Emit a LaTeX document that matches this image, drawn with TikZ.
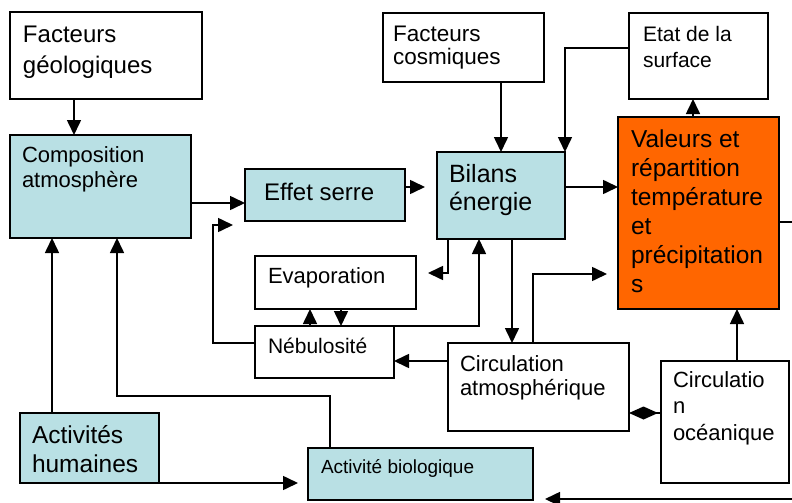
\documentclass[tikz,border=0pt]{standalone}
\usepackage{fontspec}
\setmainfont{Liberation Sans}
\usetikzlibrary{arrows.meta,calc}
\definecolor{lblue}{RGB}{185,224,228}
\definecolor{vorange}{RGB}{255,102,0}
\begin{document}
\begin{tikzpicture}[x=1pt,y=-1pt,
  box/.style={draw=black, line width=1.6pt, inner sep=0pt, outer sep=0pt, anchor=north west},
  bluebox/.style={box, fill=lblue},
  orbox/.style={box, fill=vorange},
  txt/.style={anchor=base west, inner sep=0pt, outer sep=0pt, align=left},
  arr/.style={line width=1.6pt, -{Triangle[length=15pt,width=14pt]}},
  dia/.style={line width=1.6pt, -{Diamond[length=29pt,width=13pt]}}]
\useasboundingbox (0,0) rectangle (792,503);

% boxes
\node[box, minimum width=192pt, minimum height=87pt] (geo) at (10,12) {};
\node[bluebox, minimum width=181pt, minimum height=103pt] (comp) at (10,135) {};
\node[bluebox, minimum width=160pt, minimum height=52pt] (effet) at (245,169) {};
\node[box, minimum width=161pt, minimum height=69pt] (cosm) at (383,13) {};
\node[box, minimum width=139pt, minimum height=86pt] (etat) at (629,13) {};
\node[bluebox, minimum width=128pt, minimum height=87pt] (bilans) at (437,152) {};
\node[orbox, minimum width=161pt, minimum height=192pt] (valeurs) at (618,117) {};
\node[box, minimum width=161pt, minimum height=53pt] (evap) at (255,256) {};
\node[box, minimum width=139pt, minimum height=52pt] (neb) at (255,326) {};
\node[box, minimum width=181pt, minimum height=88pt] (circatm) at (448,343) {};
\node[box, minimum width=128pt, minimum height=122pt] (circoc) at (661,361) {};
\node[bluebox, minimum width=139pt, minimum height=70pt] (acthum) at (20,413) {};
\node[bluebox, minimum width=225pt, minimum height=52pt] (actbio) at (308,448) {};

% texts (anchor = baseline of the last line)
\node[txt, font=\fontsize{24}{31}\selectfont] (geot) at ($(geo.north west)+(13,62)$) {Facteurs\\géologiques};
\node[txt, font=\fontsize{22}{25}\selectfont] (compt) at ($(comp.north west)+(12,52)$) {Composition\\atmosphère};
\node[txt, font=\fontsize{24}{28}\selectfont] (effett) at ($(effet.north west)+(19,31)$) {Effet serre};
\node[txt, font=\fontsize{22.5}{23}\selectfont] (cosmt) at ($(cosm.north west)+(10,52)$) {Facteurs\\cosmiques};
\node[txt, font=\fontsize{21}{26}\selectfont] (etatt) at ($(etat.north west)+(14,54)$) {Etat de la\\surface};
\node[txt, font=\fontsize{25}{28}\selectfont] (bilanst) at ($(bilans.north west)+(12,58)$) {Bilans\\énergie};
\node[txt, font=\fontsize{24.5}{29}\selectfont] (valeurst) at ($(valeurs.north west)+(13,175)$) {Valeurs et\\répartition\\température\\et\\précipitation\\s};
\node[txt, font=\fontsize{22}{25}\selectfont] (evapt) at ($(evap.north west)+(13,27)$) {Evaporation};
\node[txt, font=\fontsize{21}{25}\selectfont] (nebt) at ($(neb.north west)+(13,27)$) {Nébulosité};
\node[txt, font=\fontsize{22}{24}\selectfont] (circatmt) at ($(circatm.north west)+(12,52)$) {Circulation\\atmosphérique};
\node[txt, font=\fontsize{22}{26.5}\selectfont] (circoct) at ($(circoc.north west)+(12,79)$) {Circulatio\\n\\océanique};
\node[txt, font=\fontsize{24.5}{29}\selectfont] (acthumt) at ($(acthum.north west)+(12,59)$) {Activités\\humaines};
\node[txt, font=\fontsize{19}{23}\selectfont] (actbiot) at ($(actbio.north west)+(13,25)$) {Activité biologique};

% coordinates
\coordinate (p1) at ($(comp.north east)+(0,68)$);
\coordinate (p2) at ($(neb.north west)+(0,17)$);
\coordinate (effin) at ($(effet.south west)+(-12,4)$);
\coordinate (p4) at ($(effet.north east)+(0,18)$);
\coordinate (p5) at ($(cosm.south west)+(118,0)$);
\coordinate (p6) at ($(etat.north west)+(0,35)$);
\coordinate (p7) at ($(valeurs.north west)+(75,0)$);
\coordinate (p8) at ($(bilans.north east)+(0,35)$);
\coordinate (p9) at ($(bilans.south west)+(11,0)$);
\coordinate (p10) at ($(evap.north east)+(12,17)$);
\coordinate (p11) at ($(bilans.south west)+(42,0)$);
\coordinate (p12) at ($(bilans.south west)+(75,0)$);
\coordinate (p13) at ($(circatm.north west)+(85,0)$);
\coordinate (p14) at ($(valeurs.north west)+(-11,157)$);
\coordinate (p15) at ($(circatm.north west)+(0,18)$);
\coordinate (p16) at ($(neb.north west)+(55,0)$);
\coordinate (p17) at ($(evap.south west)+(86,0)$);
\coordinate (p18) at ($(circoc.north west)+(76,0)$);
\coordinate (p19) at ($(circoc.north west)+(0,52)$);
\coordinate (p20) at ($(acthum.north west)+(32,0)$);
\coordinate (p21) at ($(actbio.north west)+(22,0)$);
\coordinate (p22) at ($(comp.south west)+(107,0)$);
\coordinate (p23) at ($(geo.south west)+(64,0)$);
\coordinate (p24) at ($(valeurs.north east)+(0,105)$);
\coordinate (p25) at ($(actbio.south east)+(12,-1)$);

% connectors
\draw[arr] (p23) -- (p23 |- comp.north);
\draw[arr] (p1) -- (p1 -| effet.west);
\draw[arr] (p2) -- ++(-42,0) |- (effin);
\draw[arr, shorten >=12pt] (p4) -- (p4 -| bilans.west);
\draw[arr] (p5) -- (p5 |- bilans.north);
\draw[arr] (p6) -| (bilans.north east);
\draw[arr] (p7) -- (p7 |- etat.south);
\draw[arr] (p8) -- (p8 -| valeurs.west);
\draw[arr] (p9) |- (p10);
\draw[arr] (neb.north east) -| (p11);
\draw[arr] (p12) -- (p12 |- circatm.north);
\draw[arr] (p13) |- (p14);
\draw[arr] (p15) -- (p15 -| neb.east);
\draw[arr] (p16) -- (p16 |- evap.south);
\draw[arr] (p17) -- (p17 |- neb.north);
\draw[arr] (p18) -- (p18 |- valeurs.south);
\draw[dia] (p19) -- (p19 -| circatm.east);
\draw[arr] (p20) -- (p20 |- comp.south);
\draw[arr] (p21) -- ++(0,-52) -| (p22);
\draw[arr, shorten >=10pt] (acthum.south east) -- (acthum.south east -| actbio.west);
\draw[arr] (p24) -- ++(25,0) |- (p25);
\end{tikzpicture}
\end{document}
